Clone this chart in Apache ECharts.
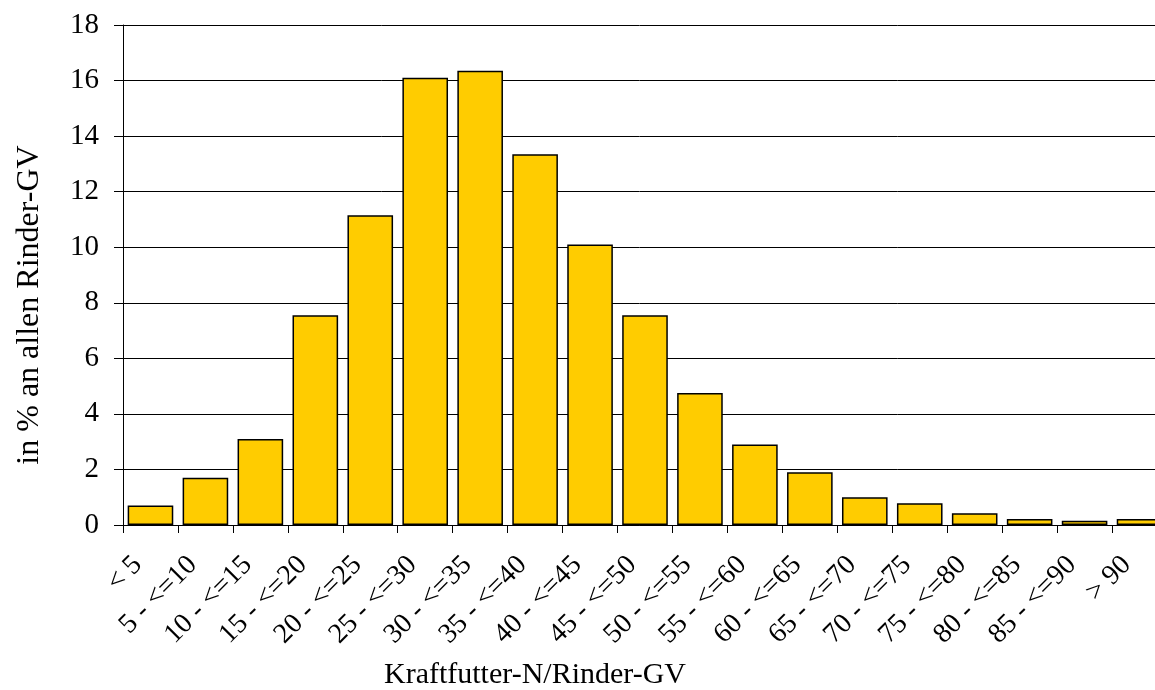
<!DOCTYPE html>
<html>
<head>
<meta charset="utf-8">
<script src="https://cdn.jsdelivr.net/npm/echarts@6/dist/echarts.min.js"></script>
<style>
html,body{margin:0;padding:0;background:#fff;overflow:hidden;}
#chart{width:1155px;height:690px;}
</style>
</head>
<body>
<div id="chart"></div>
<script>
const categories = ['< 5','5 - <=10','10 - <=15','15 - <=20','20 - <=25','25 - <=30','30 - <=35','35 - <=40','40 - <=45','45 - <=50','50 - <=55','55 - <=60','60 - <=65','65 - <=70','70 - <=75','75 - <=80','80 - <=85','85 - <=90','> 90'];
const shares = [0.7, 1.7, 3.1, 7.55, 11.15, 16.1, 16.35, 13.35, 10.1, 7.55, 4.75, 2.9, 1.9, 1.0, 0.78, 0.42, 0.22, 0.15, 0.22];
const yTicks = [0, 2, 4, 6, 8, 10, 12, 14, 16, 18];
const xTitle = 'Kraftfutter-N/Rinder-GV';
const yTitle = 'in % an allen Rinder-GV';

const FONT = '"Liberation Serif", "Times New Roman", serif';
const chart = echarts.init(document.getElementById('chart'), null, {renderer: 'canvas'});
chart.setOption({
  animation: false,
  backgroundColor: '#ffffff',
  grid: {left: 123, top: 25, height: 500, width: 1044, containLabel: false, outerBoundsMode: 'none'},
  xAxis: {
    type: 'category',
    data: categories,
    axisLine: {lineStyle: {color: '#000', width: 1}},
    axisTick: {show: true, length: 8, lineStyle: {color: '#000'}},
    axisLabel: {rotate: 45, margin: 23, padding: [0, 18, 0, 0], color: '#000', fontFamily: FONT, fontSize: 28, interval: 0}
  },
  yAxis: {
    type: 'value',
    min: yTicks[0],
    max: yTicks[yTicks.length - 1],
    interval: 2,
    axisLine: {show: true, lineStyle: {color: '#000', width: 1}},
    axisTick: {show: true, length: 9, lineStyle: {color: '#000'}},
    axisLabel: {margin: 24, color: '#000', fontFamily: FONT, fontSize: 29},
    splitLine: {show: true, lineStyle: {color: '#000', width: 1}}
  },
  series: [{
    type: 'bar',
    data: shares,
    barCategoryGap: '17%',
    itemStyle: {color: '#FFCC00', borderColor: '#000', borderWidth: 1.5}
  }],
  graphic: [
    {type: 'text', left: 384, top: 660, style: {text: xTitle, font: '30px ' + FONT, fill: '#000'}},
    {type: 'text', x: 30, y: 305, rotation: Math.PI / 2,
      style: {text: yTitle, font: '32px ' + FONT, fill: '#000', align: 'center', verticalAlign: 'middle'}}
  ]
});
</script>
</body>
</html>
